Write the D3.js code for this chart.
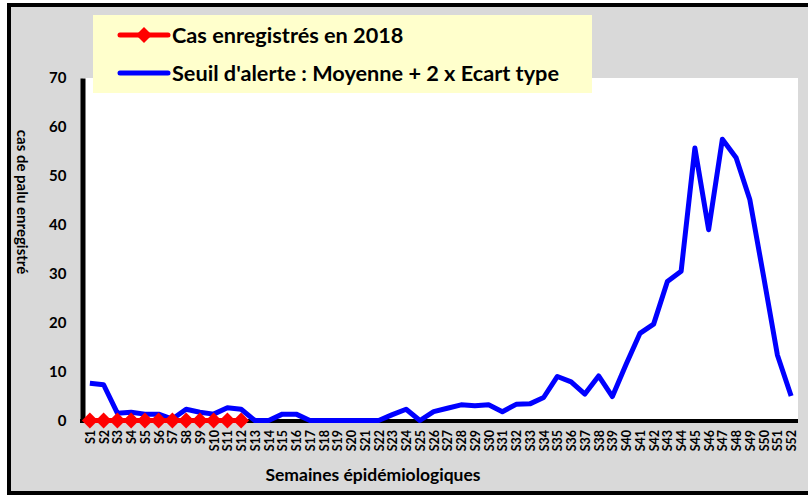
<!DOCTYPE html>
<html>
<head>
<meta charset="utf-8">
<script src="https://cdn.jsdelivr.net/npm/d3@7"></script>
<style>
  body { margin: 0; background: #fff; }
  svg text { font-family: Lato, "Open Sans", sans-serif; font-weight: bold; fill: #000; }
</style>
</head>
<body>
<div id="chart"></div>
<script>
// Data
const weeks = d3.range(1, 53).map(i => "S" + i);
const cases2018 = [0, 0, 0, 0, 0, 0, 0, 0, 0, 0, 0, 0];
const threshold = [7.6, 7.3, 1.5, 1.7, 1.3, 1.3, 0.3, 2.3, 1.7, 1.3,
    2.6, 2.3, 0, 0, 1.3, 1.3, 0, 0, 0, 0,
    0, 0, 1.2, 2.3, 0, 1.8, 2.5, 3.2, 3.0, 3.2,
    1.8, 3.3, 3.4, 4.7, 9.0, 7.9, 5.4, 9.1, 4.9, 11.5,
    17.8, 19.7, 28.4, 30.5, 55.7, 39.0, 57.5, 53.7, 45.1, 29.4,
    13.4, 5.0];
const yTicks = [0, 10, 20, 30, 40, 50, 60, 70];

const width = 808;
const height = 495;
const plot = { left: 83, right: 798, top: 78, bottom: 420.5 };

const svg = d3.select("#chart").append("svg")
    .attr("width", width)
    .attr("height", height);

// Background + frame
svg.append("rect")
    .attr("x", 9).attr("y", 5)
    .attr("width", 810).attr("height", 488)
    .attr("fill", "#d9d9d9")
    .attr("stroke", "#000")
    .attr("stroke-width", 4);

svg.append("rect")
    .attr("x", plot.left).attr("y", plot.top)
    .attr("width", plot.right - plot.left)
    .attr("height", plot.bottom - plot.top)
    .attr("fill", "#fff");

// Scales
const x = d3.scalePoint()
    .domain(weeks)
    .range([plot.left, plot.right])
    .padding(0.5);

const y = d3.scaleLinear()
    .domain([0, 70])
    .range([plot.bottom, plot.top]);

// Axes
const yAxis = svg.append("g")
    .attr("transform", `translate(${plot.left - 0.5},0)`)
    .call(d3.axisLeft(y).tickValues(yTicks).tickSize(0).tickPadding(16));
yAxis.select(".domain").attr("stroke", "#000").attr("stroke-width", 5);
yAxis.selectAll("text")
    .style("font-family", "Lato, sans-serif")
    .style("font-weight", "bold")
    .style("font-size", "15px");

const xAxis = svg.append("g")
    .attr("transform", `translate(0,${plot.bottom + 0.5})`)
    .call(d3.axisBottom(x).tickSize(0).tickSizeOuter(0));
xAxis.select(".domain")
    .attr("d", `M${plot.left - 3},0H${plot.right}`)
    .attr("stroke", "#000").attr("stroke-width", 4);
xAxis.selectAll("text")
    .attr("transform", "rotate(-90)")
    .attr("x", -9)
    .attr("y", 0)
    .attr("dy", "0.36em")
    .style("text-anchor", "end")
    .style("font-family", "Lato, sans-serif")
    .style("font-weight", "bold")
    .style("font-size", "12.5px");

// Axis titles
svg.append("text")
    .attr("x", 373)
    .attr("y", 481)
    .style("text-anchor", "middle")
    .style("font-size", "17.5px")
    .text("Semaines épidémiologiques");

svg.append("text")
    .attr("transform", "translate(17,202) rotate(90)")
    .style("text-anchor", "middle")
    .style("font-size", "15px")
    .text("cas de palu enregistré");

// Lines
const line = d3.line()
    .x((d, i) => x(weeks[i]))
    .y(d => y(d));

svg.append("path")
    .datum(threshold)
    .attr("fill", "none")
    .attr("stroke", "#0000ff")
    .attr("stroke-width", 5)
    .attr("stroke-linejoin", "round")
    .attr("d", line);

svg.append("path")
    .datum(cases2018)
    .attr("fill", "none")
    .attr("stroke", "#ff0000")
    .attr("stroke-width", 5)
    .attr("d", line);

// diamond marker, 16 x 16
const diamond = "M0,-8L8,0L0,8L-8,0Z";
svg.selectAll(".pt")
    .data(cases2018)
    .enter().append("path")
    .attr("class", "pt")
    .attr("transform", (d, i) => `translate(${x(weeks[i])},${y(d)})`)
    .attr("fill", "#ff0000")
    .attr("d", diamond);

// Legend
const legend = svg.append("g");
legend.append("rect")
    .attr("x", 93).attr("y", 15)
    .attr("width", 499).attr("height", 78)
    .attr("fill", "#ffffcc");

const legendItems = [
    { label: "Cas enregistrés en 2018", color: "#ff0000", marker: true, y: 35 },
    { label: "Seuil d'alerte : Moyenne + 2 x Ecart type", color: "#0000ff", marker: false, y: 73 }
];

legendItems.forEach(item => {
    legend.append("line")
        .attr("x1", 120).attr("x2", 168)
        .attr("y1", item.y).attr("y2", item.y)
        .attr("stroke", item.color)
        .attr("stroke-width", 5)
        .attr("stroke-linecap", "round");
    if (item.marker) {
        legend.append("path")
            .attr("transform", `translate(144,${item.y})`)
            .attr("fill", item.color)
            .attr("d", diamond);
    }
    legend.append("text")
        .attr("x", 172)
        .attr("y", item.y + 7.5)
        .style("font-size", "21.7px")
        .text(item.label);
});
</script>
</body>
</html>
